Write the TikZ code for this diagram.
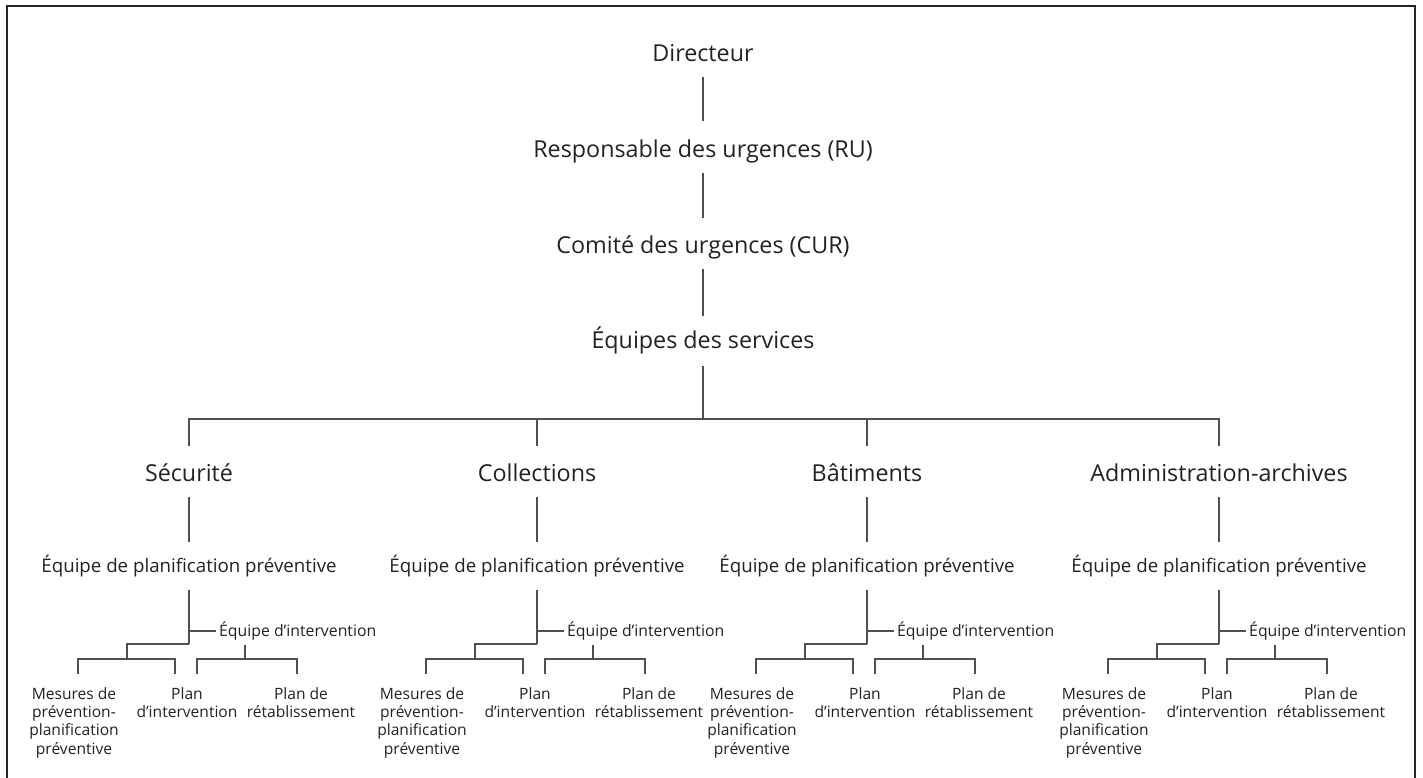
\documentclass[tikz,border=0pt]{standalone}
\usepackage{fontspec}
\setmainfont{Open Sans}
\definecolor{txt}{HTML}{222222}
\definecolor{ln}{HTML}{505050}
\begin{document}
\begin{tikzpicture}[x=1pt,y=-1pt,
  lbl/.style={inner sep=0pt, text=txt, anchor=base},
  big/.style={lbl, font=\fontsize{23.3}{28}\selectfont},
  mid/.style={lbl, font=\fontsize{18.7}{22}\selectfont},
  sml/.style={font=\fontsize{15.8}{19}\selectfont, text=txt, inner sep=3pt, anchor=west},
  leaf/.style={font=\fontsize{15.6}{18.4}\selectfont, text=txt, inner sep=0pt, anchor=north, align=center},
  conn/.style={draw=ln, line width=1.4pt},
  frame/.style={draw=black!85, line width=1.6pt}]
\useasboundingbox (0,0) rectangle (1423,778);
\draw[frame] (7,778) -- (7,6) -- (1415,6) -- (1415,778);

\node[big] (dir) at (703,62) {Directeur};
\node[big] (resp) at (703,158) {Responsable des urgences (RU)};
\node[big] (com) at (703,253) {Comité des urgences (CUR)};
\node[big] (eq) at (703,348) {Équipes des services};
\draw[conn] ([yshift=-15pt]dir.base) -- ([yshift=37pt]resp.base);
\draw[conn] ([yshift=-15pt]resp.base) -- ([yshift=35pt]com.base);
\draw[conn] ([yshift=-16pt]com.base) -- ([yshift=32pt]eq.base);
\coordinate (bus) at (703,419);
\draw[conn] ([yshift=-18pt]eq.base) -- (bus);

\foreach \i/\c/\name in {1/189/Sécurité,2/537/Collections,3/867/Bâtiments,4/1219/Administration-archives} {
  \node[big] (s\i) at (\c,481) {\name};
  \draw[conn] (bus) -| ([yshift=35pt]s\i.base);
  \node[mid] (p\i) at (\c,572) {Équipe de planification préventive};
  \draw[conn] ([yshift=-16pt]s\i.base) -- ([yshift=30pt]p\i.base);
  \coordinate (t\i) at (\c,644);
  \coordinate (j\i) at (\c,631);
  \node[sml] (int\i) at (\c+27,631) {Équipe d’intervention};
  \draw[conn] ([yshift=-18pt]p\i.base) -- (t\i);
  \draw[conn] (j\i) -- (int\i.west);
  \node[leaf] (mes\i) at (\c-115,687) {Mesures de\\prévention-\\planification\\préventive};
  \node[leaf] (pint\i) at (\c-2,687) {Plan\\d’intervention};
  \node[leaf] (ret\i) at (\c+112,687) {Plan de\\rétablissement};
  \coordinate (lb\i) at (\c-62,659);
  \coordinate (ml\i) at (\c-111,674);
  \coordinate (mr\i) at (\c-14,674);
  \draw[conn] (t\i) -| (lb\i);
  \draw[conn] (ml\i) |- (lb\i) -| (mr\i);
  \coordinate (is\i) at (\c+56,645);
  \coordinate (ib\i) at (\c+56,659);
  \coordinate (rl\i) at (\c+8,674);
  \coordinate (rr\i) at (\c+108,674);
  \draw[conn] (is\i) -- (ib\i);
  \draw[conn] (rl\i) |- (ib\i) -| (rr\i);
}
\end{tikzpicture}
\end{document}
